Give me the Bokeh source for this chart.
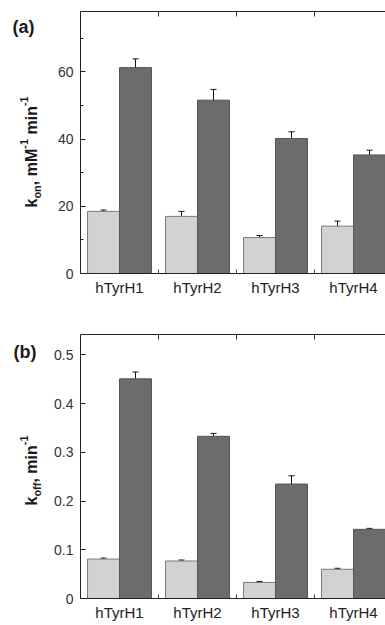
import math
from bokeh.plotting import figure
from bokeh.models import (ColumnDataSource, Range1d, FixedTicker, LinearAxis,
                          Whisker, TeeHead)
from bokeh.layouts import column, row
from bokeh.core.properties import value
from bokeh.embed import file_html
from bokeh.resources import INLINE

# ---------------- data ----------------
categories = ["hTyrH1", "hTyrH2", "hTyrH3", "hTyrH4"]

kon_light = [18.5, 17.0, 10.7, 14.1]
kon_light_err = [0.4, 1.5, 0.6, 1.5]
kon_dark = [61.3, 51.6, 40.2, 35.3]
kon_dark_err = [2.6, 3.2, 2.0, 1.4]

koff_light = [0.081, 0.077, 0.033, 0.060]
koff_light_err = [0.002, 0.002, 0.002, 0.002]
koff_dark = [0.451, 0.333, 0.235, 0.142]
koff_dark_err = [0.014, 0.006, 0.017, 0.002]

kon_ticks = [0, 20, 40, 60]
kon_minor = [10, 30, 50, 70]
koff_ticks = [0, 0.1, 0.2, 0.3, 0.4, 0.5]

# ---------------- style ----------------
FONT = "Liberation Sans"
LIGHT = "#d2d2d2"
DARK = "#6c6c6c"
LW = 46                    # width of the title strip on the left
MW = 385 - LW              # width of the chart figure
PX_PER_X = 78.0            # pixels per category
X_END = 305 / PX_PER_X
BAR_W = 0.41
OFF = 0.205

# Liberation Sans Bold advance widths (per 1000 em)
AW = {"k": 556, "o": 611, "n": 611, "f": 333, ",": 278, " ": 278, "m": 889,
      "M": 833, "-": 333, "1": 556, "i": 278}


def tw(s, size):
    return sum(AW.get(c, 556) for c in s) * size / 1000.0


def make_panel(light, light_err, dark, dark_err, y_end, ticks, minor, height,
               border_top, border_bottom, fmt):
    p = figure(width=MW, height=height, output_backend="svg", toolbar_location=None,
               x_range=Range1d(0, X_END), y_range=Range1d(0, y_end),
               min_border_left=80 - LW, min_border_right=0,
               min_border_top=border_top, min_border_bottom=border_bottom,
               x_axis_type=None, y_axis_type=None)
    p.outline_line_color = None
    p.xgrid.visible = False
    p.ygrid.visible = False

    centers = [i + 0.5 for i in range(len(categories))]
    src_l = ColumnDataSource(dict(x=[c - OFF for c in centers], top=light,
                                  upper=[v + e for v, e in zip(light, light_err)],
                                  lower=[v - e for v, e in zip(light, light_err)]))
    src_d = ColumnDataSource(dict(x=[c + OFF for c in centers], top=dark,
                                  upper=[v + e for v, e in zip(dark, dark_err)],
                                  lower=[v - e for v, e in zip(dark, dark_err)]))
    p.vbar(x="x", top="top", bottom=0, width=BAR_W, source=src_l,
           fill_color=LIGHT, line_color="#7a7a7a", line_width=1)
    p.vbar(x="x", top="top", bottom=0, width=BAR_W, source=src_d,
           fill_color=DARK, line_color="#555555", line_width=1)
    for src in (src_l, src_d):
        wk = Whisker(base="x", upper="upper", lower="lower", source=src,
                     line_color="#111111", line_width=1,
                     upper_head=TeeHead(size=6, line_color="#111111", line_width=1),
                     lower_head=TeeHead(size=6, line_color="#111111", line_width=1))
        p.add_layout(wk)

    ya = LinearAxis(ticker=FixedTicker(ticks=ticks, minor_ticks=minor))
    ya.major_tick_in = 5
    ya.major_tick_out = 0
    ya.minor_tick_in = 3
    ya.minor_tick_out = 0
    ya.major_label_standoff = 7
    ya.major_label_text_font = FONT
    ya.major_label_text_font_size = "14px"
    ya.major_label_text_color = "#333333"
    ya.axis_line_color = "#222222"
    ya.major_tick_line_color = "#222222"
    ya.minor_tick_line_color = "#222222"
    ya.major_label_overrides = fmt
    p.add_layout(ya, "left")

    xa = LinearAxis(ticker=FixedTicker(ticks=centers, minor_ticks=[1, 2, 3]))
    xa.major_label_overrides = {c: n for c, n in zip(centers, categories)}
    xa.major_tick_in = 0
    xa.major_tick_out = 0
    xa.minor_tick_in = 4
    xa.minor_tick_out = 0
    xa.major_label_standoff = 5
    xa.major_label_text_font = FONT
    xa.major_label_text_font_size = "15px"
    xa.major_label_text_color = "#222222"
    xa.axis_line_color = "#222222"
    xa.minor_tick_line_color = "#444444"
    p.add_layout(xa, "below")

    ta = LinearAxis(ticker=FixedTicker(ticks=[], minor_ticks=[1, 2, 3]))
    ta.major_label_text_font_size = "0px"
    ta.major_tick_in = 0
    ta.major_tick_out = 0
    ta.minor_tick_in = 5
    ta.minor_tick_out = 0
    ta.axis_line_color = "#222222"
    ta.minor_tick_line_color = "#333333"
    ta.major_label_standoff = 0
    p.add_layout(ta, "above")
    return p


def title_strip(height, frame_top, frame_bottom, tag, tag_x, tag_base,
                sub, sups, k_start, base_x):
    """Narrow figure holding the panel tag and the rotated y title.
    Its frame is aligned with the chart frame; 1 data unit = 1 px, y = height - page y."""
    s = figure(width=LW, height=height, output_backend="svg", toolbar_location=None,
               x_range=Range1d(0, LW),
               y_range=Range1d(height - frame_bottom, height - frame_top),
               min_border=0, x_axis_type=None, y_axis_type=None)
    s.outline_line_color = None
    s.xgrid.visible = False
    s.ygrid.visible = False
    s.text(x=[tag_x], y=[height - tag_base], text=[tag], text_font=value(FONT),
           text_font_style="bold", text_font_size=value("18px"),
           text_color="#1a1a1a", text_align="left", text_baseline="alphabetic")
    main, small = 16, 11
    pieces = [("k", main, 0), (sub, small, 5)]
    for t, sp in sups:
        pieces.append((t, main, 0))
        pieces.append((sp, small, -8))
    pos = height - k_start
    for txt, size, shift in pieces:
        lead = len(txt) - len(txt.lstrip(" "))
        pos += tw(" " * lead, size)
        txt = txt.lstrip(" ")
        s.text(x=[base_x + shift], y=[pos], text=[txt], angle=math.pi / 2,
               text_font=value(FONT), text_font_style="bold",
               text_font_size=value(f"{size}px"), text_color="#1a1a1a",
               text_align="left", text_baseline="alphabetic")
        pos += tw(txt, size)
    return s


HA, HB = 300, 323
TOP_A, BOT_A = 11, 273          # chart frame extent inside figure (a)
TOP_B, BOT_B = 34, 298          # chart frame extent inside figure (b)

pa = make_panel(kon_light, kon_light_err, kon_dark, kon_dark_err, 78,
                kon_ticks, kon_minor, HA, TOP_A, HA - BOT_A, {})
sa = title_strip(HA, TOP_A, BOT_A, "(a)", 12, 26, "on",
                 [(", mM", "-1"), (" min", "-1")], 207, 31)

pb = make_panel(koff_light, koff_light_err, koff_dark, koff_dark_err, 0.542,
                koff_ticks, [], HB, TOP_B, HB - BOT_B, {0: "0"})
sb = title_strip(HB, TOP_B, BOT_B, "(b)", 13, 51, "off",
                 [(", min", "-1")], 205, 31)

layout = column(row(sa, pa, spacing=0), row(sb, pb, spacing=0), spacing=0)
open("out.html", "w").write(file_html(layout, INLINE))
